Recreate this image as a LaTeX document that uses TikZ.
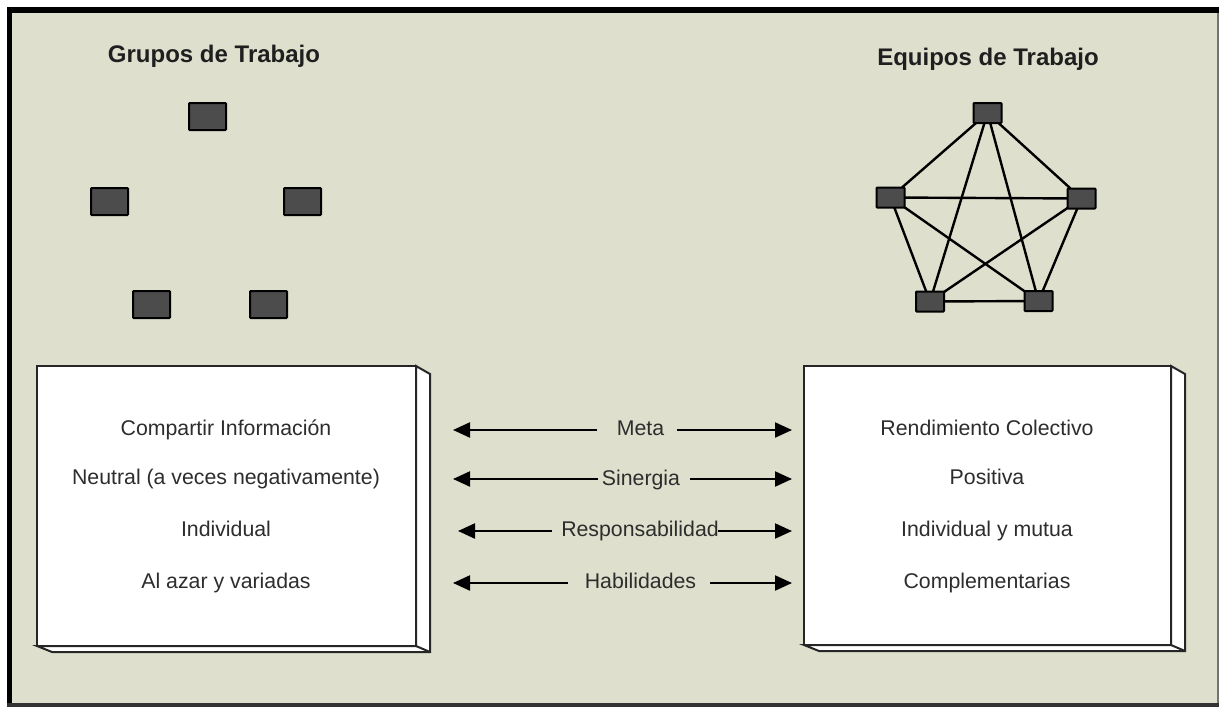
\documentclass[tikz,border=0pt]{standalone}
\usepackage{fontspec}
\setmainfont{Liberation Sans}
\usetikzlibrary{arrows.meta,calc}

\definecolor{canvas}{RGB}{222,224,205}
\definecolor{chip}{RGB}{76,76,76}
\definecolor{ink}{RGB}{45,45,45}

\begin{document}
\begin{tikzpicture}[x=1pt,y=-1pt,
  chipA/.style={draw=black, line width=2pt, fill=chip, inner sep=0pt, outer sep=0pt,
                minimum width=37pt, minimum height=27pt, rounded corners=0.8pt},
  chipB/.style={chipA, minimum width=28pt, minimum height=20pt},
  link/.style={black, line width=2.4pt},
  heading/.style={font=\fontsize{24}{27}\selectfont\bfseries, text=black!88, anchor=base, inner sep=0pt},
  entry/.style={font=\fontsize{21.3}{25}\selectfont, text=ink, anchor=base, inner sep=0pt},
  panel/.style={draw=black!85, line width=2pt, fill=white, inner sep=0pt, outer sep=0pt},
  depth/.style={draw=black!85, line width=2pt, fill=white, line join=miter},
  tip/.style={-{Triangle[length=17pt,width=15pt]}, black, line width=2.2pt}
]
% page and sunken frame
\useasboundingbox (0,0) rectangle (1219,707);
\fill[white] (0,0) rectangle (1219,707);
\fill[canvas] (7,7) rectangle (1219,705);
\fill[black] (7,7) rectangle (1219,13);
\fill[black] (7,7) rectangle (12,707);
\fill[black!55] (1216.5,13) rectangle (1219,707);
\fill[black!80] (7,703) rectangle (1219,707);

% headings
\node[heading] (hgrp) at (214,62) {Grupos de Trabajo};
\node[heading] (heq) at (988,65) {Equipos de Trabajo};

% loose members of a group
\node[chipA] (g1) at (207.5,116.5) {};
\node[chipA] (g2) at (109.5,201.5) {};
\node[chipA] (g3) at (302.5,201.5) {};
\node[chipA] (g4) at (151.5,304.5) {};
\node[chipA] (g5) at (268.5,304.5) {};

% fully connected team members
\node[chipB] (t1) at (987.5,113) {};
\node[chipB] (t2) at (890.5,197.5) {};
\node[chipB] (t3) at (1081.5,198.5) {};
\node[chipB] (t4) at (930,301.5) {};
\node[chipB] (t5) at (1038.5,301) {};
\foreach \a/\b in {t1/t2,t1/t3,t1/t4,t1/t5,t2/t3,t2/t4,t2/t5,t3/t4,t3/t5,t4/t5}
  \draw[link] (\a) -- (\b);

% 3D panels
\node[panel, minimum width=379pt, minimum height=280pt] (pg) at (226.5,506) {};
\filldraw[depth] (pg.north east) -- ++(14,8) -- ($(pg.south east)+(14,6)$)
  -- ($(pg.south west)+(15,6)$) -- (pg.south west) -- (pg.south east) -- cycle;
\draw[depth] (pg.south east) -- ++(14,6);

\node[panel, minimum width=367pt, minimum height=279pt] (pe) at (987.5,505.5) {};
\filldraw[depth] (pe.north east) -- ++(14,8) -- ($(pe.south east)+(14,6)$)
  -- ($(pe.south west)+(15,6)$) -- (pe.south west) -- (pe.south east) -- cycle;
\draw[depth] (pe.south east) -- ++(14,6);

% left panel entries
\node[entry] (ga) at (226,435) {Compartir Información};
\node[entry] (gb) at (226,484) {Neutral (a veces negativamente)};
\node[entry] (gc) at (226,536) {Individual};
\node[entry] (gd) at (226,588) {Al azar y variadas};

% right panel entries
\node[entry] (ea) at (987,435) {Rendimiento Colectivo};
\node[entry] (eb) at (987,484) {Positiva};
\node[entry] (ec) at (987,536) {Individual y mutua};
\node[entry] (ed) at (987,588) {Complementarias};

% comparison criteria
\node[entry] (ka) at (640.5,435) {Meta};
\node[entry] (kb) at (641,485) {Sinergia};
\node[entry] (kc) at (640,536) {Responsabilidad};
\node[entry] (kd) at (640.5,588) {Habilidades};

\coordinate (kaL) at (453,430);  \coordinate (kaR) at (792,430);
\coordinate (kbL) at (453,479);  \coordinate (kbR) at (792,479);
\coordinate (kcL) at (458,531);  \coordinate (kcR) at (792,531);
\coordinate (kdL) at (453,583);  \coordinate (kdR) at (792,583);

\coordinate (kaA) at (597,430);  \coordinate (kaB) at (677,430);
\coordinate (kbA) at (598,479);  \coordinate (kbB) at (690,479);
\coordinate (kcA) at (552,531);  \coordinate (kcB) at (718,531);
\coordinate (kdA) at (568,583);  \coordinate (kdB) at (710,583);

\foreach \k in {ka,kb,kc,kd} {
  \draw[tip] (\k A) -- (\k L);
  \draw[tip] (\k B) -- (\k R);
}
\end{tikzpicture}
\end{document}
